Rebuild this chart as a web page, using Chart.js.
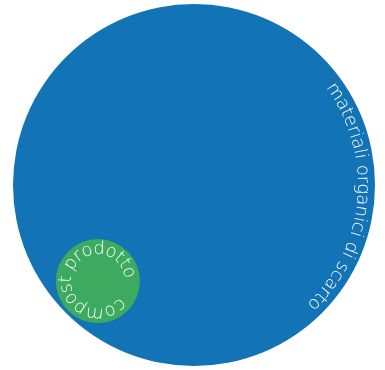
<!DOCTYPE html>
<html>
<head>
<meta charset="utf-8">
<script src="https://cdn.jsdelivr.net/npm/chart.js@4"></script>
<style>
  html, body { margin: 0; padding: 0; background: #fff; }
  .wrap { width: 385px; height: 370px; }
</style>
</head>
<body>
<div class="wrap"><canvas id="chart"></canvas></div>
<script>
// data
const labels = ['materiali organici di scarto', 'compost prodotto'];
const values = [100, 5.4];
const colors = ['#1273b7', '#3caa5f'];

const BIG_R = 181;
const PAD = 3;
const FONT = '200 18px "DejaVu Sans", Lato, sans-serif';

// text arc: start / end angle (deg, clockwise) of first and last letter
const textArcs = [
  { inset: 17, start: -33.5, end: 44.7 },
  { inset: 15, start: 46.7, end: 344.2 },
];

const maxValue = Math.max(...values);
const radii = values.map(v => BIG_R * Math.sqrt(v / maxValue));

// small bubble sits inside the big one, toward the lower left
const points = values.map((v, i) => {
  if (i === 0) return { x: 0, y: 0, r: radii[0] };
  const d = radii[0] - radii[i] - PAD;
  return { x: -d * Math.cos(Math.PI / 4), y: -d * Math.sin(Math.PI / 4), r: radii[i] };
});

const drawArcText = (ctx, text, cx, cy, radius, startDeg, endDeg) => {
  const chars = [...text];
  const widths = chars.map(ch => ctx.measureText(ch).width);
  const centers = [];
  let acc = 0;
  widths.forEach(w => {
    centers.push(acc + w / 2);
    acc += w;
  });
  const first = centers[0];
  const last = centers[centers.length - 1];
  const a0 = (startDeg * Math.PI) / 180;
  const a1 = (endDeg * Math.PI) / 180;
  chars.forEach((ch, i) => {
    const t = (centers[i] - first) / (last - first);
    const theta = a0 + (a1 - a0) * t;
    ctx.save();
    ctx.translate(cx, cy);
    ctx.rotate(theta + Math.PI / 2);
    ctx.fillText(ch, 0, -radius);
    ctx.restore();
  });
};

const arcLabels = {
  id: 'arcLabels',
  afterDatasetsDraw(chart) {
    const { ctx } = chart;
    const meta = chart.getDatasetMeta(0);
    ctx.save();
    ctx.font = FONT;
    ctx.fillStyle = '#ffffff';
    ctx.textAlign = 'center';
    ctx.textBaseline = 'alphabetic';
    meta.data.forEach((el, i) => {
      const arc = textArcs[i];
      const r = el.options.radius;
      drawArcText(ctx, labels[i], el.x, el.y, r - arc.inset, arc.start, arc.end);
    });
    ctx.restore();
  },
};

new Chart(document.getElementById('chart'), {
  type: 'bubble',
  data: {
    labels,
    datasets: [
      {
        data: points,
        backgroundColor: colors,
        borderWidth: 0,
        hoverBorderWidth: 0,
        clip: false,
      },
    ],
  },
  options: {
    responsive: true,
    maintainAspectRatio: false,
    animation: false,
    events: [],
    layout: { padding: 0, autoPadding: false },
    plugins: {
      legend: { display: false },
      tooltip: { enabled: false },
    },
    scales: {
      x: { type: 'linear', display: false, min: -194, max: 191 },
      y: { type: 'linear', display: false, min: -185, max: 185 },
    },
  },
  plugins: [arcLabels],
});
</script>
</body>
</html>
